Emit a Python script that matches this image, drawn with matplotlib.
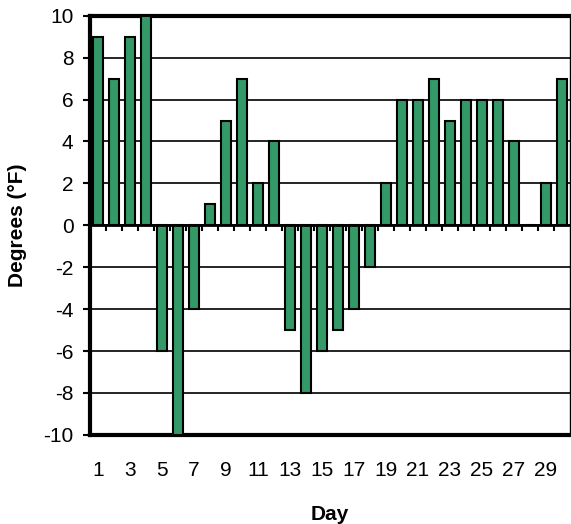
import numpy as np
import matplotlib
matplotlib.use('Agg')
import matplotlib.pyplot as plt

days = np.arange(1, 31)
degrees = [9, 7, 9, 10, -6, -10, -4, 1, 5, 7, 2, 4, -5, -8, -6,
           -5, -4, -2, 2, 6, 6, 7, 5, 6, 6, 6, 4, 0, 2, 7]
tick_days = days[::2]

plt.rcParams['font.family'] = ['Liberation Sans', 'DejaVu Sans']
plt.rcParams['axes.unicode_minus'] = False

fig = plt.figure(figsize=(5.71, 5.24), dpi=100)
ax = fig.add_axes([0.158, 0.170, 0.840, 0.800])

ax.bar(days, degrees, width=0.6, color='#339966', edgecolor='black',
       linewidth=1.5, zorder=3)

ax.set_xlim(0.5, 30.5)
ax.set_ylim(-10, 10)
ax.set_yticks(np.arange(-10, 11, 2))
ax.set_xticks(tick_days)
ax.tick_params(axis='x', length=0, pad=19, labelsize=15)
ax.tick_params(axis='y', length=5, width=1.5, direction='out', pad=7,
               labelsize=15)

ax.yaxis.grid(True, color='black', linewidth=1.2, zorder=1)
ax.set_axisbelow(True)

# zero line with tick marks between the bars
ax.axhline(0, color='black', linewidth=2, zorder=4)
ax.vlines(days[:-1] + 0.5, -0.25, 0, color='black', linewidth=1.5, zorder=4)

for side in ['left', 'top', 'bottom']:
    ax.spines[side].set_linewidth(3)
ax.spines['right'].set_linewidth(1)

ax.set_xlabel('Day', fontsize=15, fontweight='bold', labelpad=18)
ax.set_ylabel('Degrees (°F)', fontsize=15, fontweight='bold', labelpad=12)

fig.savefig('out.png', dpi=100)
